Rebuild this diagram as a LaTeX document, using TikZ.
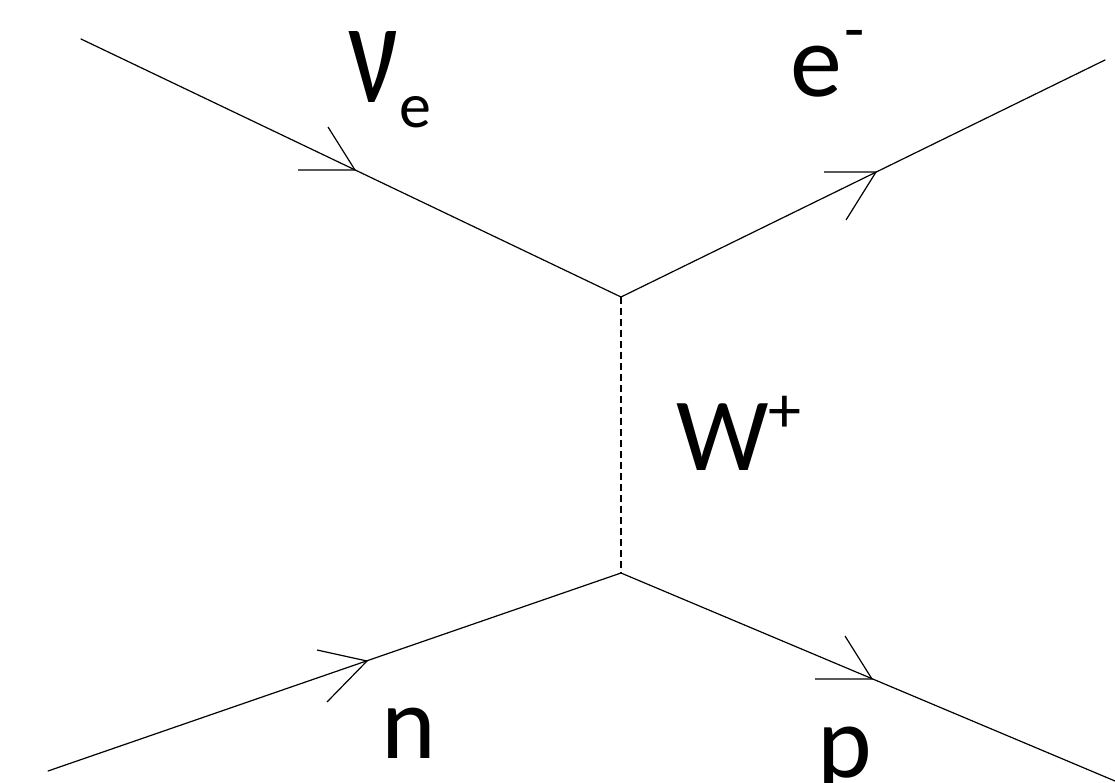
\documentclass[tikz,border=0pt]{standalone}
\usepackage{fontspec}
\setmainfont{Carlito}
\begin{document}
\begin{tikzpicture}[x=1pt,y=-1pt,
  fermion/.style={line width=1.2pt, line cap=round},
  barb/.style={line width=1.2pt, line join=miter},
  boson/.style={line width=1.2pt, dash pattern=on 7pt off 4pt},
  lbl/.style={inner sep=0pt, anchor=base west, font=\fontsize{104}{120}\selectfont}]
\useasboundingbox (0,0) rectangle (1115,783);
% vertices and ends
\coordinate (v1) at (621,297);
\coordinate (v2) at (621,573);
\coordinate (a) at (81,39);
\coordinate (b) at (1105,60);
\coordinate (c) at (48,771);
\coordinate (d) at (1115,781);
% arrowhead points
\coordinate (ta) at (355,170); \coordinate (ta1) at (298,170); \coordinate (ta2) at (328,127);
\coordinate (tb) at (876,172); \coordinate (tb1) at (824,172); \coordinate (tb2) at (846,220);
\coordinate (tc) at (367,661); \coordinate (tc1) at (317,650); \coordinate (tc2) at (327,702);
\coordinate (td) at (872,679); \coordinate (td1) at (815,679); \coordinate (td2) at (845,636);
% lines
\draw[fermion] (a) -- (v1) -- (b);
\draw[fermion] (c) -- (v2) -- (d);
\draw[boson] (v1) -- (v2);
% arrowheads
\draw[barb] (ta1) -- (ta) -- (ta2);
\draw[barb] (tb1) -- (tb) -- (tb2);
\draw[barb] (tc1) -- (tc) -- (tc2);
\draw[barb] (td1) -- (td) -- (td2);
% labels
\node[lbl] (nue) at (348,103) {\resizebox{50pt}{71pt}{ν}\hspace{1pt}\raisebox{-25pt}{\fontsize{64}{70}\selectfont e}};
\node[lbl] (el) at (790,97) {e\hspace{3pt}\raisebox{45pt}{\fontsize{66}{70}\selectfont -}};
\node[lbl] (W) at (676,470) {W\raisebox{38pt}{\fontsize{66}{70}\selectfont +}};
\node[lbl] (n) at (381,758) {n};
\node[lbl] (p) at (817,777) {p};
\end{tikzpicture}
\end{document}
